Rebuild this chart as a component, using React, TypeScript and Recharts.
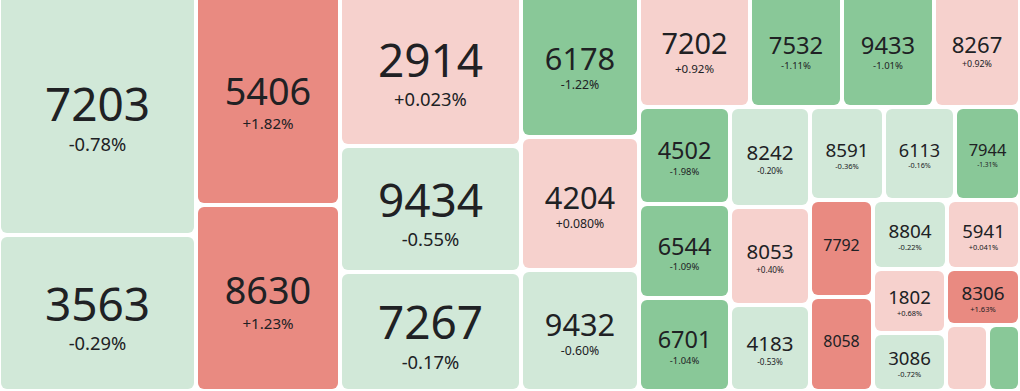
import React from 'react';
import { Treemap } from 'recharts';

// ticker codes, in size order as laid out
const codes = [
  '7203', '3563', '5406', '8630', '2914', '9434', '7267', '6178', '4204', '9432',
  '7202', '7532', '9433', '8267', '4502', '6544', '6701', '8242', '8053', '4183',
  '8591', '6113', '7944', '7792', '8058', '8804', '5941', '1802', '3086', '8306',
  '6981', '6367',
];

const sizes = [
  47871, 30732, 30600, 26856, 27784, 22806, 21630, 17155, 15686, 14041,
  12708, 10620, 10560, 9890, 8869, 8552, 8281, 8000, 7840, 6880,
  6882, 6603, 6138, 6080, 5954, 5090, 5110, 4676, 4169, 4153,
  2781, 2278,
];

// daily change in %
const changes = [
  -0.78, -0.29, 1.82, 1.23, 0.023, -0.55, -0.17, -1.22, 0.08, -0.6,
  0.92, -1.11, -1.01, 0.92, -1.98, -1.09, -1.04, -0.2, 0.4, -0.53,
  -0.36, -0.16, -1.31, 1.5, 1.5, -0.22, 0.041, 0.68, -0.72, 1.63,
  0.3, -1.2,
];

// tiles drawn without a % line
const hiddenPct = ['7792', '8058'];

const data = codes.map((name, i) => ({ name, size: sizes[i], change: changes[i] }));

const tileColor = (c: number) => {
  if (c >= 1) return '#e98a81';
  if (c >= 0) return '#f6d1cd';
  if (c > -1) return '#d1e8d8';
  return '#89c898';
};

const fmt = (c: number) => {
  const s = Math.abs(c) < 0.1 ? c.toFixed(3) : c.toFixed(2);
  return (c >= 0 ? '+' : '') + s + '%';
};

const Tile = (props: any) => {
  const { x, y, width, height, depth, name, change } = props;
  if (depth !== 1) return null;
  const w = width - 4;
  const h = height - 4;
  const cx = x + width / 2;
  const cy = y + height / 2;
  const fs = Math.min(46, w * 0.27);
  const showText = w > 45;
  const base = cy + fs * 0.17;
  return (
    <g>
      <rect x={x + 2} y={y + 2} width={w} height={h} rx={6} ry={6} fill={tileColor(change)} stroke="none" />
      {showText && (
        <text x={cx} y={base} textAnchor="middle" fontSize={fs} fill="#202124" stroke="none">
          {name}
        </text>
      )}
      {showText && !hiddenPct.includes(name) && (
        <text x={cx} y={base + fs * 0.64} textAnchor="middle" fontSize={fs * 0.4} fill="#202124" stroke="none">
          {fmt(change)}
        </text>
      )}
    </g>
  );
};

export default function App() {
  return (
    <div style={{ position: 'absolute', left: -1, top: -8, width: 1021, height: 399, fontFamily: '"Noto Sans", sans-serif' }}>
      <Treemap
        width={1021}
        height={399}
        data={data}
        dataKey="size"
        nameKey="name"
        aspectRatio={1}
        stroke="#fff"
        fill="#fff"
        isAnimationActive={false}
        content={<Tile />}
      />
    </div>
  );
}
